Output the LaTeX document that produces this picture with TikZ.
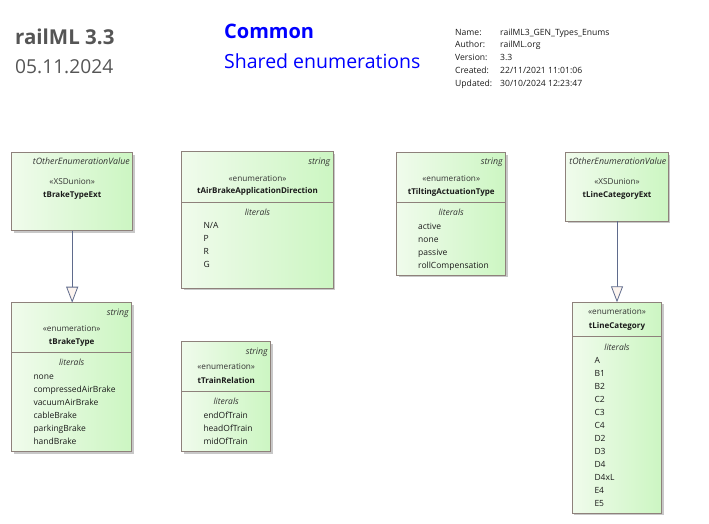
\documentclass[tikz,border=0pt]{standalone}
\usepackage{fontspec}
\setmainfont{Open Sans}
\usetikzlibrary{arrows.meta,shadows}
\definecolor{boxL}{HTML}{F0FBEC}
\definecolor{boxR}{HTML}{CCF6C2}
\definecolor{boxD}{HTML}{8E817B}
\definecolor{shadowc}{HTML}{C8C8C8}
\definecolor{genc}{HTML}{5F6B8C}
\definecolor{trif}{HTML}{FCF4EF}
\definecolor{hdrgray}{HTML}{555555}
\definecolor{txt}{HTML}{1A1A1A}
\definecolor{stc}{HTML}{333333}
\begin{document}
\begin{tikzpicture}[x=1pt,y=-1pt,
  umlbox/.style={draw=boxD,line width=0.8pt,left color=boxL,right color=boxR,
    drop shadow={shadow xshift=2pt,shadow yshift=-2pt,fill=shadowc,opacity=1},
    anchor=north west,inner sep=0pt,outer sep=0pt},
  divider/.style={draw=boxD,line width=0.8pt},
  tag/.style={font=\fontsize{8.8}{10}\selectfont\itshape,text=stc,anchor=base east,inner sep=0pt},
  stereo/.style={font=\fontsize{8.2}{9}\selectfont,text=stc,anchor=base,inner sep=0pt},
  cname/.style={font=\fontsize{8}{9}\selectfont\bfseries,text=txt,anchor=base,inner sep=0pt},
  lithdr/.style={font=\fontsize{8.5}{9}\selectfont\itshape,text=stc,anchor=base,inner sep=0pt},
  lit/.style={font=\fontsize{8.5}{9}\selectfont,text=txt,anchor=base west,inner sep=0pt},
  gen/.style={draw=genc,line width=0.8pt,-{Triangle[open,width=12pt,length=16pt,fill=trif]}},
  meta/.style={font=\fontsize{8.6}{10}\selectfont,text=txt,anchor=base west,inner sep=0pt}
]
\useasboundingbox (0,0) rectangle (709,524);

% header
\node[anchor=base west,inner sep=0pt,font=\fontsize{20.5}{24}\selectfont\bfseries,text=hdrgray] (h1) at (15,45) {railML 3.3};
\node[anchor=base west,inner sep=0pt,font=\fontsize{19.2}{22}\selectfont,text=hdrgray] (h2) at (15,74) {05.11.2024};
\node[anchor=base west,inner sep=0pt,font=\fontsize{20}{23}\selectfont\bfseries,text=blue] (h3) at (224,39) {Common};
\node[anchor=base west,inner sep=0pt,font=\fontsize{19.5}{22}\selectfont,text=blue] (h4) at (224,68.3) {Shared enumerations};
\node[meta] (m1) at (455,35.3) {Name:};
\node[meta] (m2) at (455,48) {Author:};
\node[meta] (m3) at (455,60.7) {Version:};
\node[meta] (m4) at (455,74) {Created:};
\node[meta] (m5) at (455,87) {Updated:};
\node[meta] (v1) at (500,35.3) {railML3\_GEN\_Types\_Enums};
\node[meta] (v2) at (500,48) {railML.org};
\node[meta] (v3) at (500,60.7) {3.3};
\node[meta] (v4) at (500,74) {22/11/2021 11:01:06};
\node[meta] (v5) at (500,87) {30/10/2024 12:23:47};

% boxes
\node[umlbox,minimum width=121pt,minimum height=78pt] (b1) at (11.7,152.7) {};
\node[umlbox,minimum width=151.6pt,minimum height=136.6pt] (b2) at (181.7,151.7) {};
\node[umlbox,minimum width=109pt,minimum height=122.6pt] (b3) at (396.7,152.7) {};
\node[umlbox,minimum width=102.6pt,minimum height=68.3pt] (b4) at (565.7,152.7) {};
\node[umlbox,minimum width=120pt,minimum height=149pt] (b5) at (11.7,302.7) {};
\node[umlbox,minimum width=89pt,minimum height=110pt] (b6) at (181.7,341.7) {};
\node[umlbox,minimum width=89.4pt,minimum height=211pt] (b7) at (572.3,302.3) {};

% dividers
\draw[divider] (b2.west |- 0,202.3) -- (b2.east |- 0,202.3);
\draw[divider] (b3.west |- 0,202.3) -- (b3.east |- 0,202.3);
\draw[divider] (b5.west |- 0,352.3) -- (b5.east |- 0,352.3);
\draw[divider] (b6.west |- 0,391) -- (b6.east |- 0,391);
\draw[divider] (b7.west |- 0,336.7) -- (b7.east |- 0,336.7);

% b1
\node[tag] (b1t) at (130,164.5) {tOtherEnumerationValue};
\node[stereo] (b1s) at (72.2,184) {«XSDunion»};
\node[cname] (b1n) at (72.2,197) {tBrakeTypeExt};
% b2
\node[tag] (b2t) at (330.5,164.5) {string};
\node[stereo] (b2s) at (257.5,181.3) {«enumeration»};
\node[cname] (b2n) at (257.5,193.7) {tAirBrakeApplicationDirection};
\node[lithdr] (b2h) at (257.5,215.7) {literals};
\foreach \t [count=\i from 0] in {N/A,P,R,G}
  \node[lit] (b2l\i) at (203.3,{228.7+13*\i}) {\t};
% b3
\node[tag] (b3t) at (503,164.5) {string};
\node[stereo] (b3s) at (451.2,181.3) {«enumeration»};
\node[cname] (b3n) at (451.2,194.7) {tTiltingActuationType};
\node[lithdr] (b3h) at (451.2,215.7) {literals};
\foreach \t [count=\i from 0] in {active,none,passive,rollCompensation}
  \node[lit] (b3l\i) at (418,{229+13*\i}) {\t};
% b4
\node[tag] (b4t) at (666.5,164.5) {tOtherEnumerationValue};
\node[stereo] (b4s) at (617,184) {«XSDunion»};
\node[cname] (b4n) at (617,197) {tLineCategoryExt};
% b5
\node[tag] (b5t) at (129,315.5) {string};
\node[stereo] (b5s) at (71.7,331.3) {«enumeration»};
\node[cname] (b5n) at (71.7,344.7) {tBrakeType};
\node[lithdr] (b5h) at (71.7,365.7) {literals};
\foreach \t [count=\i from 0] in {none,compressedAirBrake,vacuumAirBrake,cableBrake,parkingBrake,handBrake}
  \node[lit] (b5l\i) at (33.3,{379+13*\i}) {\t};
% b6
\node[tag] (b6t) at (268,354.5) {string};
\node[stereo] (b6s) at (226.2,369.7) {«enumeration»};
\node[cname] (b6n) at (226.2,383) {tTrainRelation};
\node[lithdr] (b6h) at (226.2,404.7) {literals};
\foreach \t [count=\i from 0] in {endOfTrain,headOfTrain,midOfTrain}
  \node[lit] (b6l\i) at (203.3,{418+13*\i}) {\t};
% b7
\node[stereo] (b7s) at (617,314) {«enumeration»};
\node[cname] (b7n) at (617,328.7) {tLineCategory};
\node[lithdr] (b7h) at (617,350.3) {literals};
\foreach \t [count=\i from 0] in {A,B1,B2,C2,C3,C4,D2,D3,D4,D4xL,E4,E5}
  \node[lit] (b7l\i) at (594.3,{363+13.03*\i}) {\t};

% generalizations
\draw[gen] (b1.south) -- (b1.south |- b5.north);
\draw[gen] (b4.south) -- (b4.south |- b7.north);
\end{tikzpicture}
\end{document}
